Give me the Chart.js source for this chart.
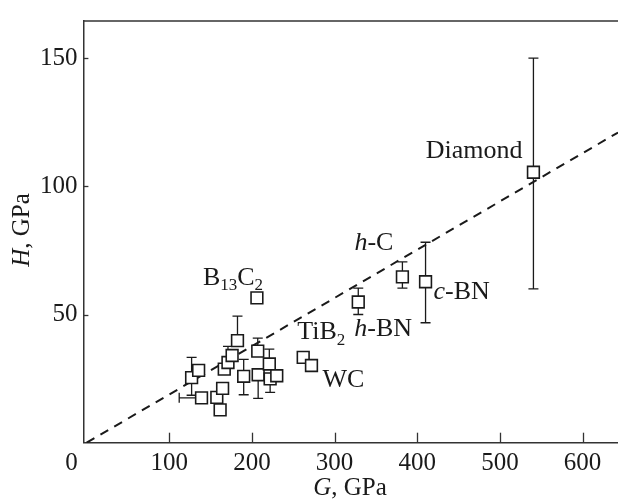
<!DOCTYPE html>
<html><head><meta charset="utf-8">
<script src="https://cdn.jsdelivr.net/npm/chart.js@4.4.1/dist/chart.umd.min.js"></script>
<style>html,body{margin:0;padding:0;background:#fff}#wrap{width:618px;height:500px}</style>
</head><body><div id="wrap"><canvas id="c" width="618" height="500"></canvas></div>
<script>
// ---- data ----
const shearModulusG = [127, 135.5, 139, 157.5, 161.5, 164.5, 166.5, 171, 176, 182.5, 190, 207, 207.5, 221, 222, 230, 206, 262, 272, 328.6, 382, 410, 540.5];
const hardnessH     = [25.4, 28.2, 17.5, 17.7, 12.8, 21.2, 28.7, 31.3, 34, 39.8, 25.9, 35.7, 26.5, 30.7, 24.9, 26.1, 56.5, 33.3, 30.1, 54.9, 64.7, 62.8, 105.5];
const hardnessLow   = [18.5, null, null, null, null, null, null, null, null, null, 18.7, null, 17.3, null, 19.6, null, null, null, null, 50, 60.3, 46.8, 60];
const hardnessHigh  = [33.3, null, null, null, null, null, null, 37.6, null, 49.4, 32.5, 40.8, null, 36.5, null, null, null, null, null, 60.3, 70.5, 78.2, 150];
const shearLow      = [null, null, 112, null, null, null, null, null, null, null, null, null, null, null, null, null, null, null, null, null, null, null, null];
const materialNames = [null, null, null, null, null, null, null, null, null, null, null, null, null, null, null, null, 'B13C2', 'TiB2', 'WC', 'h-BN', 'h-C', 'c-BN', 'Diamond'];
const fitLineG = [0, 642.8];
const fitLineH = [0, 121];
const xTickValues = [100, 200, 300, 400, 500, 600];
const yTickValues = [50, 100, 150];

// ---- rendering ----
const SERIF = '"Liberation Serif", "Times New Roman", serif';
const INK = '#1a1a1a';

function drawRich(ctx, parts, x, y, align, base) {
  const sub = Math.round(base * 0.66);
  const fontOf = p => (p.italic ? 'italic ' : '') + (p.sub ? sub : base) + 'px ' + SERIF;
  let w = 0;
  parts.forEach(p => { ctx.font = fontOf(p); w += ctx.measureText(p.t).width; });
  let cx = align === 'right' ? x - w : (align === 'center' ? x - w / 2 : x);
  ctx.textBaseline = 'middle';
  ctx.textAlign = 'left';
  ctx.fillStyle = INK;
  parts.forEach(p => {
    ctx.font = fontOf(p);
    ctx.fillText(p.t, cx, p.sub ? y + 8 : y);
    cx += ctx.measureText(p.t).width;
  });
}

const labelStyles = {
  'Diamond': {parts: [{t: 'Diamond'}], dx: -11, dy: -21, align: 'right'},
  'h-C':     {parts: [{t: 'h', italic: true}, {t: '-C'}], dx: -9, dy: -34, align: 'right'},
  'c-BN':    {parts: [{t: 'c', italic: true}, {t: '-BN'}], dx: 8, dy: 10, align: 'left'},
  'h-BN':    {parts: [{t: 'h', italic: true}, {t: '-BN'}], dx: -4, dy: 27, align: 'left'},
  'TiB2':    {parts: [{t: 'TiB'}, {t: '2', sub: true}], dx: -6, dy: -25, align: 'left'},
  'WC':      {parts: [{t: 'WC'}], dx: 11, dy: 15, align: 'left'},
  'B13C2':   {parts: [{t: 'B'}, {t: '13', sub: true}, {t: 'C'}, {t: '2', sub: true}], dx: -54, dy: -20, align: 'left'}
};

const decorPlugin = {
  id: 'decor',
  beforeDatasetsDraw(chart) {
    const {ctx, scales: {x, y}} = chart;
    ctx.save();
    ctx.strokeStyle = INK;
    ctx.lineWidth = 1.3;
    const cap = 5;
    shearModulusG.forEach((g, i) => {
      const px = x.getPixelForValue(g), py = y.getPixelForValue(hardnessH[i]);
      if (hardnessHigh[i] != null) {
        const t = y.getPixelForValue(hardnessHigh[i]);
        ctx.beginPath(); ctx.moveTo(px, py); ctx.lineTo(px, t);
        ctx.moveTo(px - cap, t); ctx.lineTo(px + cap, t); ctx.stroke();
      }
      if (hardnessLow[i] != null) {
        const b = y.getPixelForValue(hardnessLow[i]);
        ctx.beginPath(); ctx.moveTo(px, py); ctx.lineTo(px, b);
        ctx.moveTo(px - cap, b); ctx.lineTo(px + cap, b); ctx.stroke();
      }
      if (shearLow[i] != null) {
        const l = x.getPixelForValue(shearLow[i]);
        ctx.beginPath(); ctx.moveTo(px, py); ctx.lineTo(l, py);
        ctx.moveTo(l, py - cap); ctx.lineTo(l, py + cap); ctx.stroke();
      }
    });
    ctx.restore();
  },
  afterDraw(chart) {
    const {ctx, chartArea: a, scales: {x, y}} = chart;
    ctx.save();
    ctx.strokeStyle = '#333';
    ctx.lineWidth = 1.5;
    ctx.beginPath(); ctx.moveTo(a.left, a.top); ctx.lineTo(chart.width, a.top); ctx.stroke();
    ctx.lineWidth = 1.3;
    x.ticks.forEach(t => {
      const px = Math.round(x.getPixelForValue(t.value)) + 0.5;
      ctx.beginPath(); ctx.moveTo(px, a.bottom); ctx.lineTo(px, a.bottom - 10); ctx.stroke();
    });
    y.ticks.forEach(t => {
      const py = Math.round(y.getPixelForValue(t.value)) + 0.5;
      ctx.beginPath(); ctx.moveTo(a.left, py); ctx.lineTo(a.left + 5, py); ctx.stroke();
    });
    ctx.fillStyle = INK;
    ctx.font = '25px ' + SERIF;
    ctx.textAlign = 'center'; ctx.textBaseline = 'middle';
    ctx.fillText('0', a.left - 12, a.bottom + 21);
    drawRich(ctx, [{t: 'G', italic: true}, {t: ', GPa'}], 350, 488, 'center', 25);
    ctx.save();
    ctx.translate(22, 230);
    ctx.rotate(-Math.PI / 2);
    drawRich(ctx, [{t: 'H', italic: true}, {t: ', GPa'}], 0, 0, 'center', 25);
    ctx.restore();
    materialNames.forEach((name, i) => {
      if (!name) return;
      const s = labelStyles[name];
      const px = x.getPixelForValue(shearModulusG[i]), py = y.getPixelForValue(hardnessH[i]);
      drawRich(ctx, s.parts, px + s.dx, py + s.dy, s.align, 26);
    });
    ctx.restore();
  }
};

const tickFont = {family: SERIF, size: 25};
new Chart(document.getElementById('c'), {
  type: 'scatter',
  data: {
    datasets: [
      {
        data: shearModulusG.map((g, i) => ({x: g, y: hardnessH[i]})),
        pointStyle: 'rect', pointRadius: 8.3, pointHoverRadius: 8.3,
        backgroundColor: '#fff', borderColor: INK, borderWidth: 1.6, order: 0
      },
      {
        type: 'line',
        data: fitLineG.map((g, i) => ({x: g, y: fitLineH[i]})),
        borderColor: INK, borderWidth: 2, borderDash: [9, 7],
        pointRadius: 0, fill: false, order: 1
      }
    ]
  },
  options: {
    responsive: false, animation: false, devicePixelRatio: 1,
    layout: {autoPadding: false, padding: {top: 15, right: 0, left: 0, bottom: 0}},
    plugins: {legend: {display: false}, tooltip: {enabled: false}},
    scales: {
      x: {
        type: 'linear', min: -3.9, max: 642.8,
        afterBuildTicks: s => { s.ticks = xTickValues.map(v => ({value: v})); },
        afterFit: s => { s.height = 57.3; },
        grid: {display: false, drawTicks: false},
        border: {display: true, color: '#333', width: 1.5},
        ticks: {font: tickFont, color: INK, padding: 6, maxRotation: 0, autoSkip: false}
      },
      y: {
        type: 'linear', min: 0, max: 164.5,
        afterBuildTicks: s => { s.ticks = yTickValues.map(v => ({value: v})); },
        afterFit: s => { s.width = 83.4; },
        grid: {display: false, drawTicks: false},
        border: {display: true, color: '#333', width: 1.5},
        ticks: {font: tickFont, color: INK, padding: 6, autoSkip: false}
      }
    }
  },
  plugins: [decorPlugin]
});
</script></body></html>
